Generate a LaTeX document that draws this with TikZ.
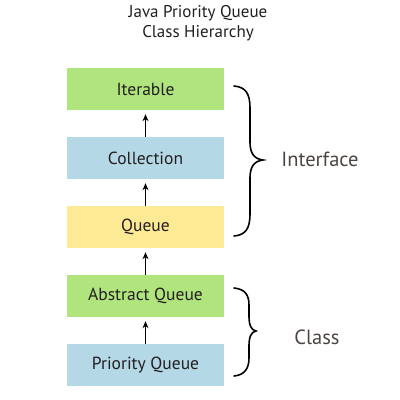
\documentclass[tikz,border=0pt]{standalone}
\usepackage{fontspec}
\setmainfont{PT Sans}
\usetikzlibrary{arrows.meta}
\definecolor{boxgreen}{RGB}{176,228,124}
\definecolor{boxblue}{RGB}{180,216,230}
\definecolor{boxyellow}{RGB}{254,233,148}
\definecolor{txt}{RGB}{35,31,32}
\definecolor{lbl}{RGB}{77,67,64}
\tikzset{
  cls/.style={minimum width=157pt, minimum height=42pt, inner sep=0pt, font=\fontsize{17.5}{20}\selectfont, text=txt},
  inh/.style={-{Stealth[length=7pt,width=6pt]}, line width=0.9pt, shorten >=4pt},
  brc/.style={line width=1.6pt, line cap=round},
  grp/.style={font=\fontsize{20.5}{24}\selectfont, text=lbl}
}
\begin{document}
\begin{tikzpicture}[x=1pt,y=-1pt]
\useasboundingbox (0,0) rectangle (400,400);
\node[font=\fontsize{17}{20.5}\selectfont, text=txt, align=center] (title) at (198,23) {Java Priority Queue\\Class Hierarchy};
\node[cls, fill=boxgreen] (it) at (145.5,89) {Iterable};
\node[cls, fill=boxblue] (col) at (145.5,158) {Collection};
\node[cls, fill=boxyellow] (q) at (145.5,227) {Queue};
\node[cls, fill=boxgreen] (aq) at (145.5,296) {Abstract Queue};
\node[cls, fill=boxblue] (pq) at (145.5,365) {Priority Queue};
\draw[inh] (col) -- (it);
\draw[inh] (q) -- (col);
\draw[inh] (aq) -- (q);
\draw[inh] (pq) -- (aq);
% Interface brace
\draw[brc] (234,86) .. controls (246,87) and (250,94) .. (250,108) -- (250,142)
  .. controls (250,153) and (254,159) .. (263,160)
  .. controls (254,161) and (250,167) .. (250,178) -- (250,214)
  .. controls (250,228) and (246,235) .. (234,236);
\node[grp] (iface) at (320,159) {Interface};
% Class brace
\draw[brc] (234,288) .. controls (245,289) and (249,295) .. (249,305) -- (249,316)
  .. controls (249,325) and (251,330) .. (256,331)
  .. controls (251,332) and (249,337) .. (249,346) -- (249,358)
  .. controls (249,368) and (245,375) .. (234,376);
\node[grp] (cl) at (317,337) {Class};
\end{tikzpicture}
\end{document}
